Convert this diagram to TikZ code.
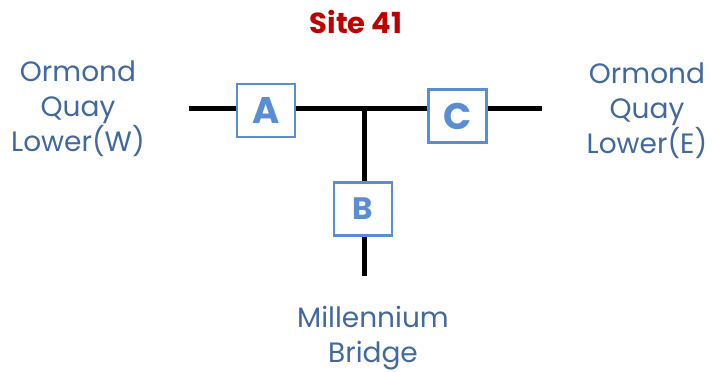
\documentclass[tikz,border=0pt]{standalone}
\usepackage{fontspec}
\setmainfont{Poppins}
\definecolor{boxblue}{HTML}{5A8ED4}
\definecolor{labelblue}{HTML}{41689F}
\definecolor{titlered}{HTML}{C00000}
\tikzset{
  wire/.style={line width=5pt, black},
  valvebox/.style={draw=boxblue, line width=2.2pt, fill=white, minimum width=58pt, minimum height=53pt, inner sep=0pt, text=boxblue, font=\bfseries},
  place/.style={text=labelblue, align=center, inner sep=0pt, anchor=base, font=\fontsize{28}{35}\selectfont},
}
\begin{document}
\begin{tikzpicture}[x=1pt,y=-1pt]
\useasboundingbox (0,0) rectangle (712,372);
\coordinate (wl) at (189,108);
\coordinate (J) at (364,108);
\coordinate (er) at (542,108);
\coordinate (sb) at (364,276);
\draw[wire] (wl) -- (er);
\draw[wire] (J) -- (sb);
\node[valvebox, font=\bfseries\fontsize{37}{37}\selectfont] (A) at (266,110.5) {A};
\node[valvebox, font=\bfseries\fontsize{31}{31}\selectfont] (B) at (363,209) {B};
\node[valvebox, font=\bfseries\fontsize{37}{37}\selectfont] (C) at (457.5,116) {C};
\node[text=titlered, inner sep=0pt, anchor=base, font=\bfseries\fontsize{29}{29}\selectfont] (title) at (356,33) {Site 41};
\node[place] (west) at (78,151) {Ormond\\Quay\\Lower(W)};
\node[place] (east) at (647,153) {Ormond\\Quay\\Lower(E)};
\node[place] (south) at (373,362) {Millennium\\Bridge};
\end{tikzpicture}
\end{document}
